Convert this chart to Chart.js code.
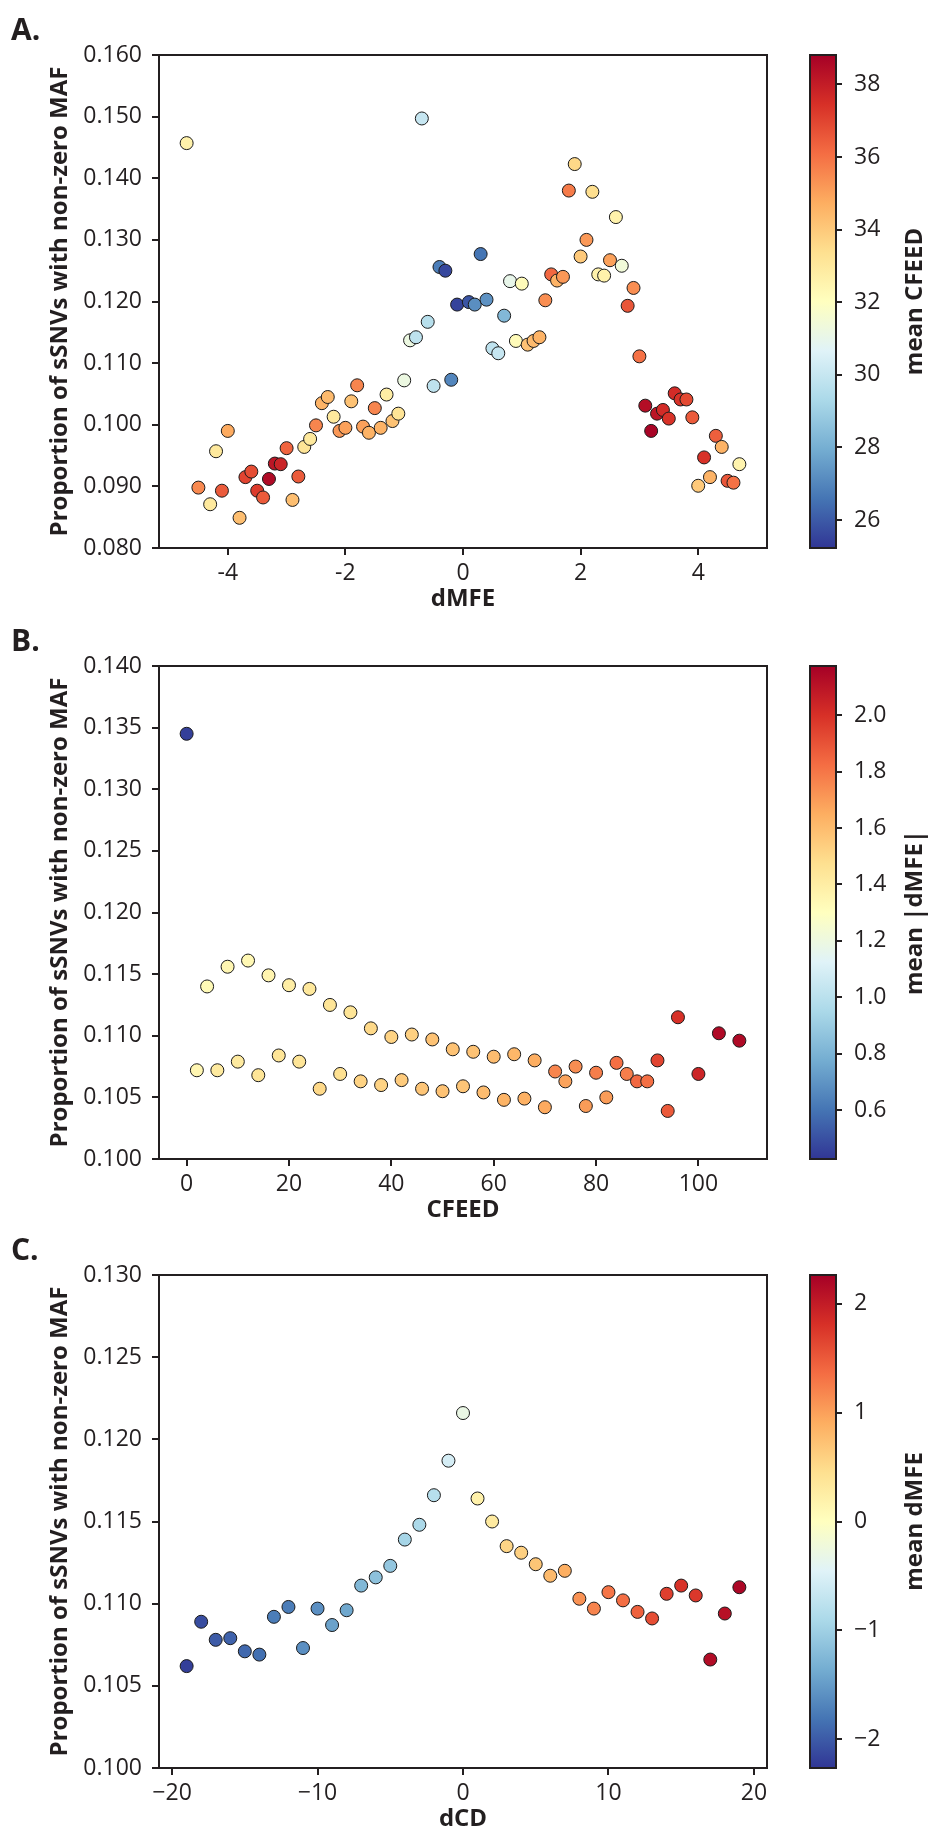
<!DOCTYPE html>
<html>
<head>
<meta charset="utf-8">
<title>sSNV proportion vs dMFE / CFEED / dCD</title>
<script src="https://cdn.jsdelivr.net/npm/chart.js@4.4.1/dist/chart.umd.min.js"></script>
<style>
  html, body { margin: 0; padding: 0; background: #fff; }
  #page { position: relative; width: 935px; height: 1837px; overflow: hidden; }
  canvas { position: absolute; display: block; }
</style>
</head>
<body>
<div id="page">
  <canvas id="plotA" width="790" height="611" style="left:0;top:0"></canvas>
  <canvas id="barA" width="145" height="611" style="left:790px;top:0"></canvas>
  <canvas id="plotB" width="790" height="611" style="left:0;top:611px"></canvas>
  <canvas id="barB" width="145" height="611" style="left:790px;top:611px"></canvas>
  <canvas id="plotC" width="790" height="611" style="left:0;top:1220px"></canvas>
  <canvas id="barC" width="145" height="611" style="left:790px;top:1220px"></canvas>
</div>
<script>
// Panel A: proportion vs dMFE, coloured by mean CFEED
const aDmfe = [-4.7, -4.5, -4.3, -4.2, -4.1, -4.0, -3.8, -3.7, -3.6, -3.5, -3.4, -3.3, -3.2, -3.1, -3.0,
  -2.9, -2.8, -2.7, -2.6, -2.5, -2.4, -2.3, -2.2, -2.1, -2.0, -1.9, -1.8, -1.7, -1.6, -1.5, -1.4, -1.3,
  -1.2, -1.1, -1.0, -0.9, -0.8, -0.7, -0.6, -0.5, -0.4, -0.3, -0.2, -0.1, 0.1, 0.2, 0.3, 0.4, 0.5, 0.6,
  0.7, 0.8, 0.9, 1.0, 1.1, 1.2, 1.3, 1.4, 1.5, 1.6, 1.7, 1.8, 1.9, 2.0, 2.1, 2.2, 2.3, 2.4, 2.5, 2.6,
  2.7, 2.8, 2.9, 3.0, 3.1, 3.2, 3.3, 3.4, 3.5, 3.6, 3.7, 3.8, 3.9, 4.0, 4.1, 4.2, 4.3, 4.4, 4.5, 4.6, 4.7];
const aProp = [0.1457, 0.0898, 0.0871, 0.0957, 0.0893, 0.0990, 0.0849, 0.0915, 0.0924, 0.0893, 0.0882,
  0.0912, 0.0937, 0.0936, 0.0962, 0.0878, 0.0916, 0.0964, 0.0977, 0.0999, 0.1035, 0.1045, 0.1013, 0.0990,
  0.0995, 0.1038, 0.1064, 0.0997, 0.0987, 0.1027, 0.0995, 0.1049, 0.1006, 0.1018, 0.1072, 0.1137, 0.1142,
  0.1497, 0.1167, 0.1063, 0.1256, 0.1250, 0.1073, 0.1195, 0.1199, 0.1195, 0.1277, 0.1203, 0.1124, 0.1116,
  0.1177, 0.1233, 0.1136, 0.1229, 0.1130, 0.1136, 0.1142, 0.1202, 0.1244, 0.1234, 0.1240, 0.1380, 0.1423,
  0.1273, 0.1300, 0.1378, 0.1244, 0.1242, 0.1267, 0.1337, 0.1258, 0.1193, 0.1222, 0.1111, 0.1031, 0.0990,
  0.1018, 0.1024, 0.1010, 0.1051, 0.1041, 0.1041, 0.1012, 0.0901, 0.0947, 0.0915, 0.0982, 0.0964, 0.0909,
  0.0906, 0.0936];
const aCfeed = [32.6, 35.5, 33.0, 33.0, 36.5, 34.8, 34.3, 37.0, 36.8, 37.2, 36.5, 38.5, 38.2, 37.8, 36.3,
  34.3, 36.5, 33.2, 33.0, 35.6, 34.6, 34.4, 33.0, 35.2, 35.0, 34.2, 35.6, 35.0, 34.6, 35.6, 34.6, 32.8,
  34.2, 33.2, 31.2, 31.2, 29.8, 30.0, 29.6, 29.8, 26.8, 25.6, 27.0, 25.5, 25.9, 27.2, 26.6, 27.3, 29.8,
  30.0, 28.3, 31.0, 32.2, 32.2, 34.2, 34.4, 34.6, 35.4, 36.2, 34.6, 35.2, 35.8, 33.6, 34.0, 35.2, 33.4,
  32.6, 32.6, 35.0, 32.6, 31.4, 36.6, 35.4, 36.0, 38.4, 38.7, 38.2, 37.6, 37.4, 37.6, 37.4, 36.9, 36.5,
  34.0, 37.4, 34.6, 36.4, 34.6, 36.6, 36.0, 32.5];

// Panel B: proportion vs CFEED, coloured by mean |dMFE|
const bCfeed = [0, 2, 4, 6, 8, 10, 12, 14, 16, 18, 20, 22, 24, 26, 28, 30, 32, 34, 36, 38, 40, 42, 44, 46,
  48, 50, 52, 54, 56, 58, 60, 62, 64, 66, 68, 70, 72, 74, 76, 78, 80, 82, 84, 86, 88, 90, 92, 94, 96, 100,
  104, 108];
const bProp = [0.1345, 0.1072, 0.1140, 0.1072, 0.1156, 0.1079, 0.1161, 0.1068, 0.1149, 0.1084, 0.1141,
  0.1079, 0.1138, 0.1057, 0.1125, 0.1069, 0.1119, 0.1063, 0.1106, 0.1060, 0.1099, 0.1064, 0.1101, 0.1057,
  0.1097, 0.1055, 0.1089, 0.1059, 0.1087, 0.1054, 0.1083, 0.1048, 0.1085, 0.1049, 0.1080, 0.1042, 0.1071,
  0.1063, 0.1075, 0.1043, 0.1070, 0.1050, 0.1078, 0.1069, 0.1063, 0.1063, 0.1080, 0.1039, 0.1115, 0.1069,
  0.1102, 0.1096];
const bAbsDmfe = [0.45, 1.35, 1.33, 1.42, 1.35, 1.42, 1.34, 1.45, 1.36, 1.45, 1.40, 1.45, 1.43, 1.50, 1.45,
  1.47, 1.45, 1.52, 1.50, 1.52, 1.52, 1.55, 1.53, 1.57, 1.58, 1.58, 1.58, 1.57, 1.58, 1.60, 1.60, 1.63,
  1.62, 1.64, 1.65, 1.66, 1.76, 1.68, 1.74, 1.70, 1.78, 1.70, 1.82, 1.78, 1.84, 1.82, 1.94, 1.88, 2.00,
  2.04, 2.14, 2.14];

// Panel C: proportion vs dCD, coloured by mean dMFE
const cDcd = [-19, -18, -17, -16, -15, -14, -13, -12, -11, -10, -9, -8, -7, -6, -5, -4, -3, -2, -1, 0,
  1, 2, 3, 4, 5, 6, 7, 8, 9, 10, 11, 12, 13, 14, 15, 16, 17, 18, 19];
const cProp = [0.1062, 0.1089, 0.1078, 0.1079, 0.1071, 0.1069, 0.1092, 0.1098, 0.1073, 0.1097, 0.1087,
  0.1096, 0.1111, 0.1116, 0.1123, 0.1139, 0.1148, 0.1166, 0.1187, 0.1216, 0.1164, 0.1150, 0.1135, 0.1131,
  0.1124, 0.1117, 0.1120, 0.1103, 0.1097, 0.1107, 0.1102, 0.1095, 0.1091, 0.1106, 0.1111, 0.1105, 0.1066,
  0.1094, 0.1110];
const cMeanDmfe = [-2.2, -2.1, -2.0, -1.95, -1.9, -1.85, -1.75, -1.75, -1.6, -1.6, -1.45, -1.4, -1.25,
  -1.15, -1.1, -0.95, -0.9, -0.8, -0.55, -0.3, 0.2, 0.3, 0.55, 0.6, 0.7, 0.8, 0.9, 1.1, 1.2, 1.3, 1.35,
  1.45, 1.6, 1.7, 1.8, 1.75, 2.15, 2.1, 2.2];

// tick labels
const aTicksX = [-4, -2, 0, 2, 4];
const aTicksY = [0.08, 0.09, 0.10, 0.11, 0.12, 0.13, 0.14, 0.15, 0.16];
const aTicksBar = [26, 28, 30, 32, 34, 36, 38];
const bTicksX = [0, 20, 40, 60, 80, 100];
const bTicksY = [0.100, 0.105, 0.110, 0.115, 0.120, 0.125, 0.130, 0.135, 0.140];
const bTicksBar = [0.6, 0.8, 1.0, 1.2, 1.4, 1.6, 1.8, 2.0];
const cTicksX = [-20, -10, 0, 10, 20];
const cTicksY = [0.100, 0.105, 0.110, 0.115, 0.120, 0.125, 0.130];
const cTicksBar = [-2, -1, 0, 1, 2];

// RdYlBu reversed (blue -> red)
const RDYLBU_R = ['#313695', '#4575b4', '#74add1', '#abd9e9', '#e0f3f8', '#ffffbf',
  '#fee090', '#fdae61', '#f46d43', '#d73027', '#a50026'];

const INK = '#231f20';
const FONT = '"Open Sans", "DejaVu Sans", sans-serif';

Chart.defaults.font.family = FONT;
Chart.defaults.color = INK;

const hexToRgb = (h) => [1, 3, 5].map((i) => parseInt(h.slice(i, i + 2), 16));

const colormap = (t) => {
  t = Math.min(1, Math.max(0, t));
  const pos = t * (RDYLBU_R.length - 1);
  const i = Math.min(Math.floor(pos), RDYLBU_R.length - 2);
  const f = pos - i;
  const a = hexToRgb(RDYLBU_R[i]);
  const b = hexToRgb(RDYLBU_R[i + 1]);
  const c = a.map((v, k) => Math.round(v + (b[k] - v) * f));
  return `rgb(${c[0]}, ${c[1]}, ${c[2]})`;
};

const fixedTicks = (values) => (scale) => {
  scale.ticks = values.map((v) => ({ value: v }));
};

const minus = (v) => (v < 0 ? '\u2212' + Math.abs(v) : String(v));

const frame = {
  id: 'frame',
  afterDatasetsDraw(chart) {
    const { ctx, chartArea: a } = chart;
    ctx.save();
    ctx.strokeStyle = INK;
    ctx.lineWidth = 2;
    ctx.strokeRect(a.left, a.top, a.right - a.left, a.bottom - a.top);
    ctx.restore();
  },
};

const makePanel = (id, label, xs, ys, cs, cfg) => {
  const points = xs.map((x, i) => ({ x: x, y: ys[i] }));
  const colors = cs.map((c) => colormap((c - cfg.cMin) / (cfg.cMax - cfg.cMin)));

  const labelPlugin = {
    id: 'panelLabel',
    afterDraw(chart) {
      const ctx = chart.ctx;
      ctx.save();
      ctx.fillStyle = INK;
      ctx.font = `bold 30px ${FONT}`;
      ctx.textBaseline = 'alphabetic';
      ctx.fillText(label, 11, 40);
      ctx.restore();
    },
  };

  return new Chart(document.getElementById(id), {
    type: 'scatter',
    data: {
      datasets: [{
        data: points,
        backgroundColor: colors,
        borderColor: '#1a1a1a',
        borderWidth: 1,
        pointRadius: 6.5,
        pointHoverRadius: 6.5,
      }],
    },
    options: {
      responsive: false,
      animation: false,
      events: [],
      layout: { padding: { top: 55, right: 23, left: 0, bottom: 0 } },
      plugins: { legend: { display: false }, tooltip: { enabled: false } },
      scales: {
        x: {
          type: 'linear',
          min: cfg.xMin,
          max: cfg.xMax,
          afterBuildTicks: fixedTicks(cfg.xTicks),
          afterFit: (s) => { s.height = 63; },
          grid: { drawOnChartArea: false, drawTicks: true, tickLength: 7, lineWidth: 2, color: INK },
          border: { display: false },
          ticks: { font: { size: 23 }, padding: 5, maxRotation: 0, callback: cfg.xFmt },
          title: {
            display: true,
            text: cfg.xTitle,
            font: { size: 24, weight: 'bold', lineHeight: 1 },
            padding: { top: 0, bottom: 0 },
          },
        },
        y: {
          type: 'linear',
          min: cfg.yMin,
          max: cfg.yMax,
          afterBuildTicks: fixedTicks(cfg.yTicks),
          afterFit: (s) => { s.width = 159; },
          grid: { drawOnChartArea: false, drawTicks: true, tickLength: 7, lineWidth: 2, color: INK },
          border: { display: false },
          ticks: { font: { size: 23 }, padding: 10, callback: (v) => v.toFixed(3) },
          title: {
            display: true,
            text: 'Proportion of sSNVs with non-zero MAF',
            font: { size: 24, weight: 'bold', lineHeight: 1 },
            padding: { top: 48, bottom: 0 },
          },
        },
      },
    },
    plugins: [frame, labelPlugin],
  });
};

const makeColorbar = (id, title, cfg) => {
  const bar = {
    id: 'gradientBar',
    beforeDatasetsDraw(chart) {
      const { ctx, chartArea: a } = chart;
      const g = ctx.createLinearGradient(0, a.bottom, 0, a.top);
      RDYLBU_R.forEach((c, i) => g.addColorStop(i / (RDYLBU_R.length - 1), c));
      ctx.save();
      ctx.fillStyle = g;
      ctx.fillRect(a.left, a.top, a.right - a.left, a.bottom - a.top);
      ctx.strokeStyle = INK;
      ctx.lineWidth = 2;
      ctx.strokeRect(a.left, a.top, a.right - a.left, a.bottom - a.top);
      // colorbar label, reading bottom to top
      ctx.fillStyle = INK;
      ctx.font = `bold 24px ${FONT}`;
      ctx.textAlign = 'center';
      ctx.textBaseline = 'middle';
      ctx.translate(125, (a.top + a.bottom) / 2);
      ctx.rotate(-Math.PI / 2);
      ctx.fillText(title, 0, 0);
      ctx.restore();
    },
  };

  return new Chart(document.getElementById(id), {
    type: 'scatter',
    data: { datasets: [] },
    options: {
      responsive: false,
      animation: false,
      events: [],
      layout: { padding: { top: 55, left: 20, right: 0, bottom: 63 } },
      plugins: { legend: { display: false }, tooltip: { enabled: false } },
      scales: {
        x: { display: false, min: 0, max: 1 },
        y: {
          type: 'linear',
          position: 'right',
          min: cfg.cMin,
          max: cfg.cMax,
          afterBuildTicks: fixedTicks(cfg.ticks),
          afterFit: (s) => { s.width = 99; },
          grid: { drawOnChartArea: false, drawTicks: true, tickLength: 6, lineWidth: 2, color: INK },
          border: { display: false },
          ticks: { font: { size: 23 }, padding: 12, callback: cfg.fmt },
        },
      },
    },
    plugins: [bar],
  });
};

const rangeA = { cMin: 25.23, cMax: 38.81 };
const rangeB = { cMin: 0.426, cMax: 2.175 };
const rangeC = { cMin: -2.265, cMax: 2.265 };

makePanel('plotA', 'A.', aDmfe, aProp, aCfeed, {
  ...rangeA,
  xMin: -5.17, xMax: 5.17, xTicks: aTicksX, xFmt: (v) => String(v),
  yMin: 0.08, yMax: 0.16, yTicks: aTicksY, xTitle: 'dMFE',
});
makeColorbar('barA', 'mean CFEED', { ...rangeA, ticks: aTicksBar, fmt: (v) => String(v) });

makePanel('plotB', 'B.', bCfeed, bProp, bAbsDmfe, {
  ...rangeB,
  xMin: -5.4, xMax: 113.4, xTicks: bTicksX, xFmt: (v) => String(v),
  yMin: 0.1, yMax: 0.14, yTicks: bTicksY, xTitle: 'CFEED',
});
makeColorbar('barB', 'mean |dMFE|', { ...rangeB, ticks: bTicksBar, fmt: (v) => v.toFixed(1) });

makePanel('plotC', 'C.', cDcd, cProp, cMeanDmfe, {
  ...rangeC,
  xMin: -20.9, xMax: 20.9, xTicks: cTicksX, xFmt: minus,
  yMin: 0.1, yMax: 0.13, yTicks: cTicksY, xTitle: 'dCD',
});
makeColorbar('barC', 'mean dMFE', { ...rangeC, ticks: cTicksBar, fmt: minus });
</script>
</body>
</html>
